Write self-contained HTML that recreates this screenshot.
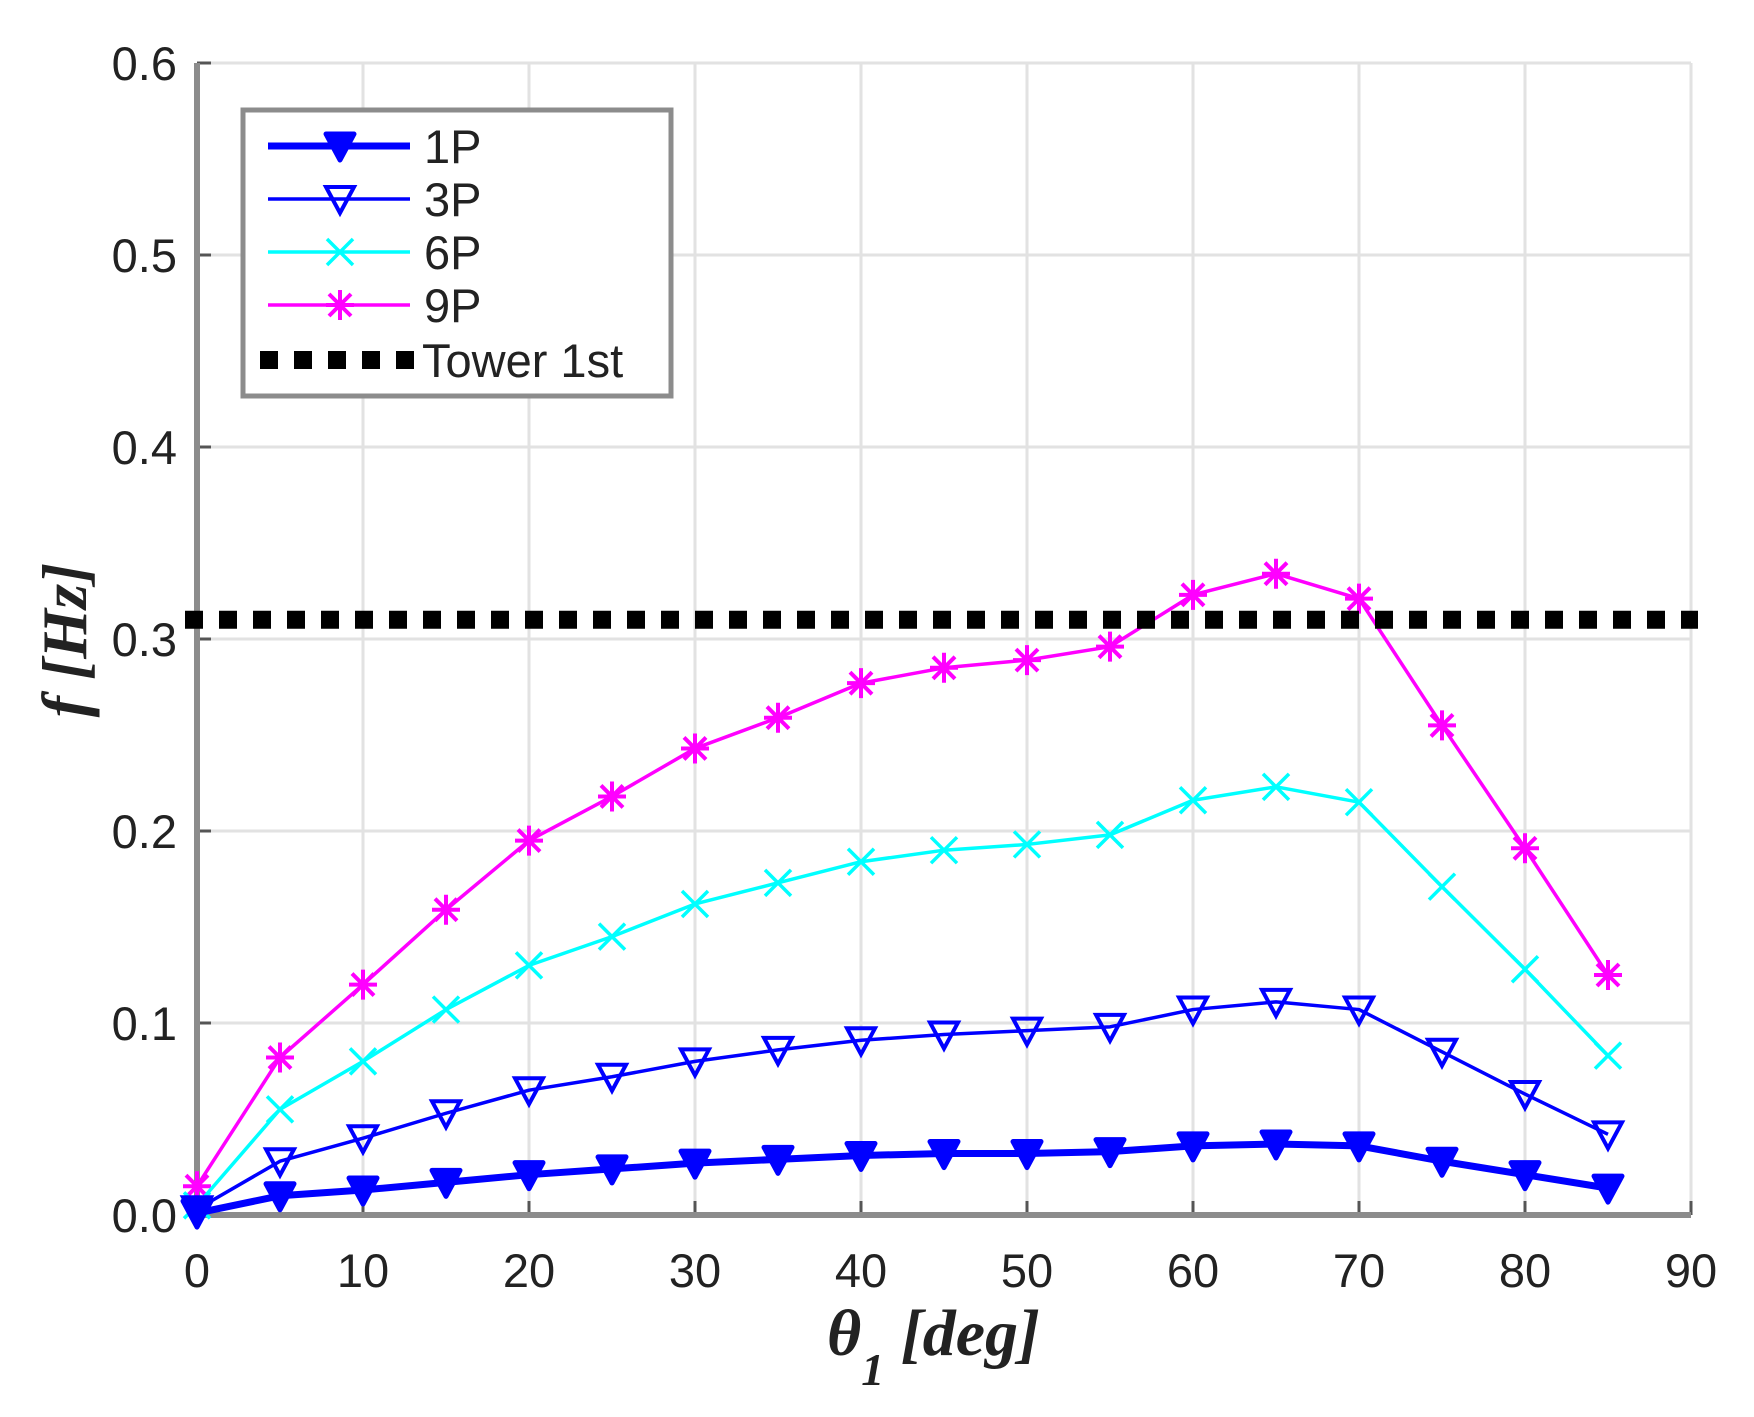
<!DOCTYPE html>
<html><head><meta charset="utf-8">
<style>
html,body{margin:0;padding:0;background:#fff;}
svg{display:block;}
text{font-family:"Liberation Sans",sans-serif;fill:#222;}
</style></head>
<body>
<svg id="chart" width="1754" height="1417" viewBox="0 0 1754 1417" xmlns="http://www.w3.org/2000/svg">
<g id="grid"></g>
<g id="axes"></g>
<g id="series"></g>
<g id="legend"></g>
<text transform="translate(86,640) rotate(-90)" text-anchor="middle" style="font-family:'Liberation Serif',serif;font-style:italic;font-weight:bold;font-size:64px;">f [Hz]</text>
<text x="827" y="1355" style="font-family:'Liberation Serif',serif;font-style:italic;font-weight:bold;font-size:66px;">θ<tspan dy="30" font-size="46">1</tspan><tspan dy="-30"> [deg]</tspan></text>
</svg>
<script>
const angles=[0,5,10,15,20,25,30,35,40,45,50,55,60,65,70,75,80,85];
const p1=[0.001,0.010,0.013,0.017,0.021,0.024,0.027,0.029,0.031,0.032,0.032,0.033,0.036,0.037,0.036,0.028,0.021,0.014];
const p3=[0.003,0.028,0.040,0.053,0.065,0.072,0.080,0.086,0.091,0.094,0.096,0.098,0.107,0.111,0.107,0.085,0.063,0.042];
const p6=[0.005,0.055,0.080,0.107,0.130,0.145,0.162,0.173,0.184,0.190,0.193,0.198,0.216,0.223,0.215,0.171,0.128,0.083];
const p9=[0.015,0.082,0.120,0.159,0.195,0.218,0.243,0.259,0.277,0.285,0.289,0.296,0.323,0.334,0.321,0.255,0.191,0.125];
const towerFreq=0.31;
const xTicks=[0,10,20,30,40,50,60,70,80,90];
const yTicks=[0,0.1,0.2,0.3,0.4,0.5,0.6];
const yTickLabels=["0.0","0.1","0.2","0.3","0.4","0.5","0.6"];
const legendLabels=["1P","3P","6P","9P","Tower 1st"];

const NS="http://www.w3.org/2000/svg";
const X0=197,X1=1691,Y0=1215,Y1=63;
const xs=v=>X0+(v/90)*(X1-X0);
const ys=v=>Y0-(v/0.6)*(Y0-Y1);
function mk(tag,attrs,parent){const e=document.createElementNS(NS,tag);for(const k in attrs)e.setAttribute(k,attrs[k]);parent.appendChild(e);return e;}
const grid=document.getElementById('grid'),axes=document.getElementById('axes'),series=document.getElementById('series'),legend=document.getElementById('legend');

xTicks.forEach(t=>{
  const l=mk('line',{x1:xs(t),x2:xs(t),y1:Y1,y2:Y0,stroke:'#e2e2e2','stroke-width':3},grid);
  
  
  const tk=mk('line',{x1:xs(t),x2:xs(t),y1:Y0,y2:Y0-14,stroke:'#555','stroke-width':3},axes);
  
  
  const tx=mk('text',{x:xs(t),y:1287,'text-anchor':'middle','font-size':47},axes);
  tx.textContent=String(t);
  
  
});
yTicks.forEach((t,i)=>{
  const l=mk('line',{x1:X0,x2:X1,y1:ys(t),y2:ys(t),stroke:'#e2e2e2','stroke-width':3},grid);
  
  
  const tk=mk('line',{x1:X0,x2:X0+14,y1:ys(t),y2:ys(t),stroke:'#555','stroke-width':3},axes);
  
  
  const tx=mk('text',{x:177,y:ys(t)+17,'text-anchor':'end','font-size':47},axes);
  tx.textContent=yTickLabels[i];
  
  
});
const ax1=mk('line',{x1:X0,x2:X0,y1:Y1,y2:Y0+2,stroke:'#8c8c8c','stroke-width':6},axes);


const ax2=mk('line',{x1:X0-3,x2:X1,y1:Y0,y2:Y0,stroke:'#8c8c8c','stroke-width':6},axes);



function marker(type,cx,cy,color,g){
  if(type==='tri-fill'){
    return mk('path',{d:`M${cx-14},${cy-12}L${cx+14},${cy-12}L${cx},${cy+14}Z`,fill:color,stroke:color,'stroke-width':5,'stroke-linejoin':'round'},g);
  } else if(type==='tri'){
    return mk('path',{d:`M${cx-14},${cy-12}L${cx+14},${cy-12}L${cx},${cy+14}Z`,fill:'none',stroke:color,'stroke-width':4},g);
  } else if(type==='x'){
    return mk('path',{d:`M${cx-13},${cy-13}L${cx+13},${cy+13}M${cx-13},${cy+13}L${cx+13},${cy-13}`,fill:'none',stroke:color,'stroke-width':3.5},g);
  } else {
    return mk('path',{d:`M${cx-14},${cy}L${cx+14},${cy}M${cx},${cy-15}L${cx},${cy+15}M${cx-11},${cy-11}L${cx+11},${cy+11}M${cx-11},${cy+11}L${cx+11},${cy-11}`,fill:'none',stroke:color,'stroke-width':4},g);
  }
}
const defs=[
  {vals:p9,color:'#ff00ff',w:3.5,m:'star',name:'series-9p'},
  {vals:p6,color:'#00ffff',w:3.5,m:'x',name:'series-6p'},
  {vals:p3,color:'#0000ff',w:3.5,m:'tri',name:'series-3p'},
  {vals:p1,color:'#0000ff',w:7,m:'tri-fill',name:'series-1p'}
];
defs.forEach(d=>{
  const g=mk('g',{},series);
  
  
  const pts=angles.map((a,i)=>xs(a)+','+ys(d.vals[i])).join(' ');
  const pl=mk('polyline',{points:pts,fill:'none',stroke:d.color,'stroke-width':d.w,'stroke-linejoin':'round'},g);
  
  
  angles.forEach((a,i)=>{
    const m=marker(d.m,xs(a),ys(d.vals[i]),d.color,g);
    
    
  });
});
const tw=mk('line',{x1:X0-12,x2:1698,y1:ys(towerFreq),y2:ys(towerFreq),stroke:'#000','stroke-width':18,'stroke-dasharray':'18 16'},series);



const lb=mk('rect',{x:243,y:110,width:428,height:286,fill:'#fff',stroke:'#8c8c8c','stroke-width':5},legend);


const rowsY=[146,199,252,305,360];
const ldefs=[
  {color:'#0000ff',w:7,m:'tri-fill'},
  {color:'#0000ff',w:3.5,m:'tri'},
  {color:'#00ffff',w:3.5,m:'x'},
  {color:'#ff00ff',w:3.5,m:'star'}
];
ldefs.forEach((d,i)=>{
  const g=mk('g',{},legend);
  
  
  mk('line',{x1:268,x2:410,y1:rowsY[i],y2:rowsY[i],stroke:d.color,'stroke-width':d.w},g);
  marker(d.m,340,rowsY[i],d.color,g);
  const t=mk('text',{x:424,y:rowsY[i]+17,'font-size':47},g);
  t.textContent=legendLabels[i];
});
const tg=mk('g',{},legend);


mk('line',{x1:260,x2:420,y1:rowsY[4],y2:rowsY[4],stroke:'#000','stroke-width':18,'stroke-dasharray':'18 16'},tg);
const tt=mk('text',{x:422,y:rowsY[4]+17,'font-size':47},tg);
tt.textContent=legendLabels[4];
</script>
</body></html>
